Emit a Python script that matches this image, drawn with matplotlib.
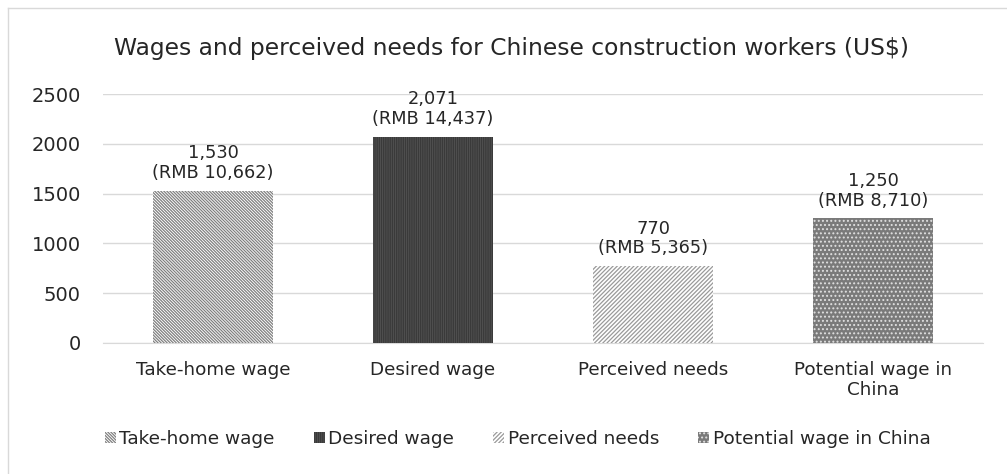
import numpy as np
import matplotlib.pyplot as plt
import matplotlib as mpl
from matplotlib.lines import Line2D

categories = ['Take-home wage', 'Desired wage', 'Perceived needs', 'Potential wage in\nChina']
legend_names = ['Take-home wage', 'Desired wage', 'Perceived needs', 'Potential wage in China']
wages_usd = [1530, 2071, 770, 1250]
wages_rmb = ['10,662', '14,437', '5,365', '8,710']

mpl.rcParams['hatch.linewidth'] = 0.9
mpl.rcParams['font.family'] = ['DejaVu Sans']

fills = ['white', '#2e2e2e', 'white', '#7a7a7a']
hatch_colors = ['#808080', '#4e4e4e', '#9a9a9a', '#e0e0e0']
hatches = ['\\' * 11, '|' * 9, '/' * 8, '.' * 4]

fig = plt.figure(figsize=(10.07, 4.74), dpi=100)
# light frame around the chart area
fig.add_artist(Line2D([8 / 1007, 8 / 1007], [0, 1 - 8 / 474], transform=fig.transFigure,
                      color='#d9d9d9', linewidth=1.0))
fig.add_artist(Line2D([8 / 1007, 1], [1 - 8 / 474, 1 - 8 / 474], transform=fig.transFigure,
                      color='#d9d9d9', linewidth=1.0))
ax = fig.add_axes([103 / 1007, 1 - 343 / 474, 880 / 1007, 249 / 474])

x = np.arange(len(categories))
for i in range(len(categories)):
    ax.bar(x[i], wages_usd[i], width=0.545, color=fills[i],
           hatch=hatches[i], edgecolor=hatch_colors[i], linewidth=0,
           label=legend_names[i], zorder=3)

for i, v in enumerate(wages_usd):
    ax.text(x[i], v + 90, f'{v:,}\n(RMB {wages_rmb[i]})', ha='center', va='bottom',
            fontsize=12.8, color='#262626', linespacing=1.1)

ax.set_xlim(-0.5, 3.5)
ax.set_ylim(0, 2500)
ax.set_yticks(np.arange(0, 2501, 500))
ax.set_xticks(x)
ax.set_xticklabels(categories, fontsize=13.2, color='#262626', linespacing=1.15)
ax.tick_params(axis='y', labelsize=14, colors='#262626', length=0, pad=16)
ax.tick_params(axis='x', length=0, pad=13)
ax.grid(axis='y', color='#d9d9d9', linewidth=1.0, zorder=0)
for s in ['top', 'right', 'left']:
    ax.spines[s].set_visible(False)
ax.spines['bottom'].set_color('#d9d9d9')

fig.text(0.508, 1 - 48 / 474, 'Wages and perceived needs for Chinese construction workers (US$)',
         ha='center', va='center', fontsize=16.8, color='#262626')

leg = fig.legend(loc='center', bbox_to_anchor=(0.514, 1 - 439 / 474), ncol=4, frameon=False,
                 fontsize=13.3, handlelength=0.6, handleheight=0.6, handletextpad=0.2,
                 columnspacing=2.1)
for t in leg.get_texts():
    t.set_color('#262626')

fig.savefig('out.png', dpi=100)
